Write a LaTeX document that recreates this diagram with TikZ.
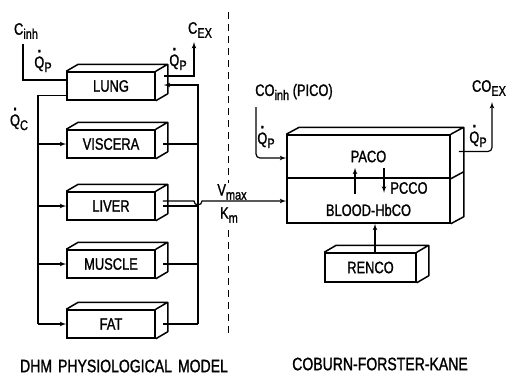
\documentclass[tikz,border=0pt]{standalone}
\usepackage{fontspec}
\setmainfont[FakeStretch=0.78,FakeBold=1.2]{Liberation Sans}
\usetikzlibrary{arrows,shapes}
\tikzstyle{organ}=[draw, line width=1.5pt
%,fill=white
,minimum width=88pt
,minimum height=28pt
,inner sep=0pt
,font=\fontsize{16.5}{18}\selectfont
]
\tikzstyle{layer} = [organ, minimum width=163pt]
\tikzstyle{depth} = [draw, line width=1.5pt, line join=round]
\tikzstyle{pipe} = [draw, line width=1.2pt, -]
\tikzstyle{flow} = [pipe, -latex']
\tikzstyle{lbl} = [inner sep=0pt, font=\fontsize{16.5}{18}\selectfont]
\tikzstyle{caption} = [inner sep=0pt, font=\fontsize{18}{20}\selectfont]
\newcommand{\lowtext}[1]{\raisebox{-0.25em}{\fontsize{14}{15}\selectfont #1}}
\newcommand{\qdot}{{\ooalign{\hidewidth\raisebox{0.95em}{\textbf{.}}\hidewidth\cr Q\cr}}}

\begin{document}
\begin{tikzpicture}[x=1pt,y=-1pt]
    \useasboundingbox (0,0) rectangle (511,376);
    % DHM compartments
    \foreach \pos/\name/\text in {{(111,86)/lung/LUNG}, {(111,144)/viscera/VISCERA}, {(111,206)/liver/LIVER}, {(111,264)/muscle/MUSCLE}, {(111,324)/fat/FAT}}
        \node[organ] (\name) at \pos {\text};
    \node[organ, minimum width=91pt, minimum height=29pt] (renco) at (370.5,267.5) {RENCO};
    % Coburn-Forster-Kane block
    \node[layer, minimum height=43pt] (alv) at (368.5,156.5) {PACO};
    \node[layer, minimum height=45pt] (blood) at (368.5,200.5) {};
    \node[organ, draw=none] (hbco) at (368.5,210) {BLOOD-HbCO};
    \node[lbl] (pcco) at (409,188) {PCCO};

    % depth of the boxes
    \foreach \name in {lung,viscera,liver,muscle,fat,renco}
        \path[depth] (\name.north west) -- ++(12,-7) -- ([shift={(12,-7)}]\name.north east)
            -- ([shift={(12,-7)}]\name.south east) -- (\name.south east)
            (\name.north east) -- ++(12,-7);
    \path[depth] (alv.north west) -- ++(13,-7) -- ([shift={(13,-7)}]alv.north east)
        -- ([shift={(13,-7)}]blood.south east) -- (blood.south east)
        (alv.north east) -- ++(13,-7) (alv.south east) -- ++(13,-7);

    % labels
    \node[lbl] (cinh) at (26,31) {C\lowtext{inh}};
    \node[lbl] (cex) at (200,30) {C\lowtext{EX}};
    \node[lbl] (qpin) at (43,61) {\qdot\lowtext{P}};
    \node[lbl] (qpout) at (178,59) {\qdot\lowtext{P}};
    \node[lbl] (qc) at (19,119) {\qdot\lowtext{C}};
    \node[lbl] (vmax) at (232,192) {V\lowtext{max}};
    \node[lbl] (km) at (229,215) {K\lowtext{m}};
    \node[lbl] (coinh) at (294,92) {CO\lowtext{inh} (PICO)};
    \node[lbl] (coex) at (489,88) {CO\lowtext{EX}};
    \node[lbl] (qpcin) at (266,137) {\qdot\lowtext{P}};
    \node[lbl] (qpcout) at (478,136) {\qdot\lowtext{P}};
    \node[caption] (dhm) at (124,366) {DHM\hspace{6pt}PHYSIOLOGICAL\hspace{6pt}MODEL};
    \node[caption] (cfk) at (380,364) {COBURN-FORSTER-KANE};

    % free ends
    \coordinate (colL) at (38,95);
    \coordinate (colR) at (198,85);
    \coordinate (inhTop) at (23,44);
    \coordinate (exTop) at (194,42);
    \coordinate (hopA) at (194,201);
    \coordinate (hopB) at (202,201);
    \coordinate (coinTop) at (256,107);
    \coordinate (coexTop) at (492,102);

    % connect the compartments
    \path[pipe] (inhTop) |- ([yshift=6pt]lung.west);
    \path[flow] ([xshift=8pt,yshift=10pt]lung.east) -| (exTop);
    \path[pipe] ([yshift=5pt]lung.south west) -| (colL |- fat.west);
    \foreach \name in {viscera,liver,muscle,fat}
        \path[flow] (colL |- \name.west) -- (\name.west);
    \foreach \name in {viscera,liver,muscle,fat}
        \path[pipe] ([xshift=7pt]\name.east) -- (colR |- \name.east);
    \path[flow] (colR |- fat.east) -- (colR) -- ([xshift=8pt,yshift=1pt]lung.east);
    \path[flow] ([xshift=7pt,yshift=5pt]liver.east) -- (hopA) arc[start angle=180, end angle=360, radius=4pt]
        -- (blood.west |- hopB);
    \path[flow, rounded corners=4pt] (coinTop) |- ([yshift=-1.5pt]alv.west);
    \path[flow, rounded corners=4pt] ([xshift=8pt,yshift=5pt]alv.east) -| (coexTop);
    \path[flow] ([xshift=-13.5pt,yshift=-15pt]alv.south) -- ([xshift=-13.5pt,yshift=11pt]alv.south);
    \path[flow] ([xshift=15.5pt,yshift=11pt]alv.south) -- ([xshift=15.5pt,yshift=-14pt]alv.south);
    \path[flow] ([xshift=4.5pt]renco.north) -- ([xshift=6.5pt]blood.south);

    % border between the two models
    \draw[line width=1pt, dash pattern=on 7pt off 5pt] (228,12) -- (228,183) (228,230) -- (228,336);
\end{tikzpicture}
\end{document}
